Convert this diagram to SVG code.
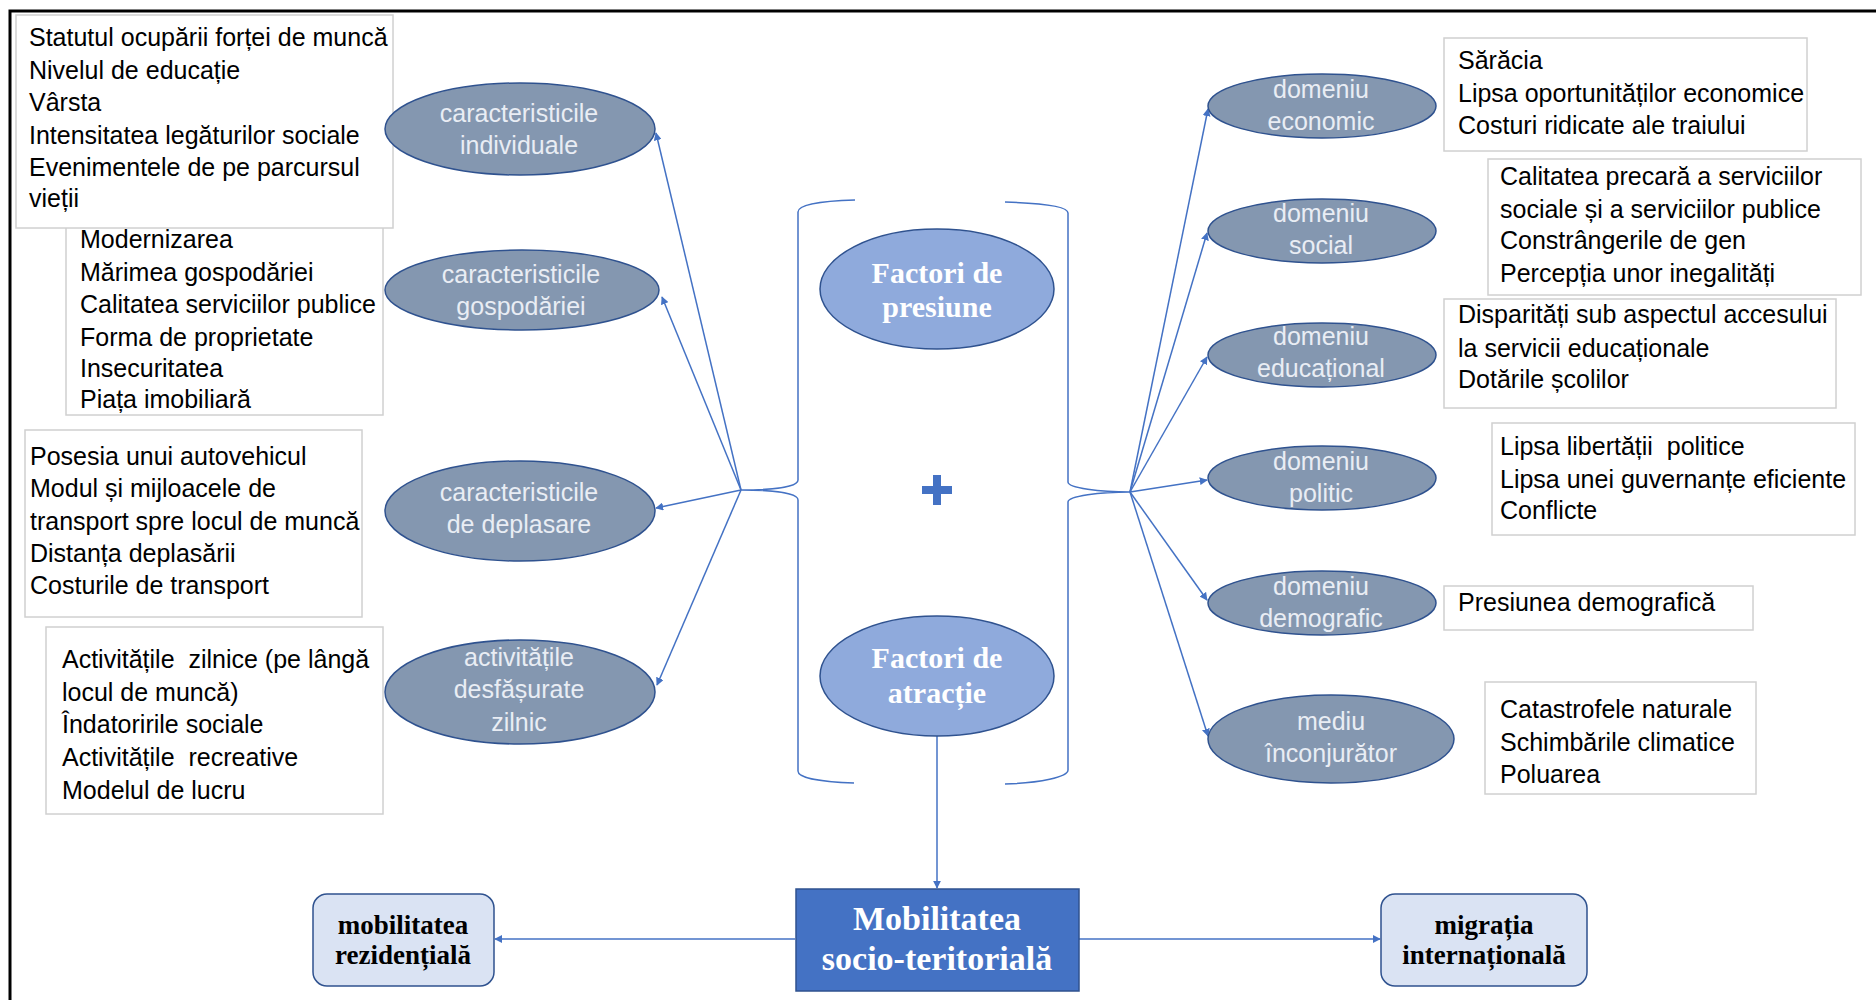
<svg xmlns="http://www.w3.org/2000/svg" width="1876" height="1000" viewBox="0 0 1876 1000">
<defs>
<style>
.box{fill:#fff;stroke:#d0d0d0;stroke-width:1.5}
.lt{font-family:"Liberation Sans",Arial,sans-serif;font-size:25px;fill:#000;white-space:pre}
.el{fill:#8497B0;stroke:#2F528F;stroke-width:1.5}
.et{font-family:"Liberation Sans",Arial,sans-serif;font-size:25px;fill:#E9EDF4;text-anchor:middle}
.fe{fill:#8FAADC;stroke:#2F528F;stroke-width:1.5}
.ft{font-family:"Liberation Serif","Times New Roman",serif;font-weight:bold;font-size:30px;fill:#fff;text-anchor:middle}
.sb{fill:#DAE3F3;stroke:#2F528F;stroke-width:1.5}
.st{font-family:"Liberation Serif","Times New Roman",serif;font-weight:bold;font-size:27px;fill:#000;text-anchor:middle}
.mt{font-family:"Liberation Serif","Times New Roman",serif;font-weight:bold;font-size:34px;fill:#fff;text-anchor:middle}
.ln{fill:none;stroke:#4472C4;stroke-width:1.5}
</style>
<marker id="ah" viewBox="0 0 10 10" refX="9" refY="5" markerWidth="8" markerHeight="8" markerUnits="userSpaceOnUse" orient="auto">
<path d="M0,0 L10,5 L0,10 z" fill="#4472C4"/>
</marker>
</defs>
<rect width="1876" height="1000" fill="#fff"/>
<path d="M10,1000 L10,11 L1876,11" fill="none" stroke="#000" stroke-width="3"/>

<g id="connectors">
<path class="ln" d="M855,200 C822,201 798,204 798,212 L798,480 C798,487 772,490 741,490 C772,490 798,493 798,500 L798,771 C798,778 822,782 854,783"/>
<path class="ln" d="M1005,202 C1040,203 1068,206 1068,213 L1068,482 C1068,488 1100,492 1130,492 C1100,492 1068,496 1068,502 L1068,770 C1068,777 1040,783 1005,784"/>
<line class="ln" x1="741" y1="490" x2="656" y2="133" marker-end="url(#ah)"/>
<line class="ln" x1="741" y1="490" x2="662" y2="297" marker-end="url(#ah)"/>
<line class="ln" x1="741" y1="490" x2="656" y2="508" marker-end="url(#ah)"/>
<line class="ln" x1="741" y1="490" x2="657" y2="685" marker-end="url(#ah)"/>
<line class="ln" x1="1130" y1="492" x2="1208" y2="109" marker-end="url(#ah)"/>
<line class="ln" x1="1130" y1="492" x2="1207" y2="233" marker-end="url(#ah)"/>
<line class="ln" x1="1130" y1="492" x2="1207" y2="357" marker-end="url(#ah)"/>
<line class="ln" x1="1130" y1="492" x2="1207" y2="480" marker-end="url(#ah)"/>
<line class="ln" x1="1130" y1="492" x2="1207" y2="600" marker-end="url(#ah)"/>
<line class="ln" x1="1130" y1="492" x2="1208" y2="736" marker-end="url(#ah)"/>
<line class="ln" x1="937" y1="736" x2="937" y2="888" marker-end="url(#ah)"/>
<line class="ln" x1="795" y1="939" x2="495" y2="939" marker-end="url(#ah)"/>
<line class="ln" x1="1079" y1="939" x2="1380" y2="939" marker-end="url(#ah)"/>
</g>

<g id="box-gospodarie">
<rect class="box" x="66" y="200" width="317" height="215"/>
<text class="lt" x="80" y="248">Modernizarea</text>
<text class="lt" x="80" y="281">Mărimea gospodăriei</text>
<text class="lt" x="80" y="313">Calitatea serviciilor publice</text>
<text class="lt" x="80" y="346">Forma de proprietate</text>
<text class="lt" x="80" y="377">Insecuritatea</text>
<text class="lt" x="80" y="408">Piața imobiliară</text>
</g>
<g id="box-individual">
<rect class="box" x="16" y="15" width="377" height="213"/>
<text class="lt" x="29" y="46">Statutul ocupării forței de muncă</text>
<text class="lt" x="29" y="79">Nivelul de educație</text>
<text class="lt" x="29" y="111">Vârsta</text>
<text class="lt" x="29" y="144">Intensitatea legăturilor sociale</text>
<text class="lt" x="29" y="176">Evenimentele de pe parcursul</text>
<text class="lt" x="29" y="207">vieții</text>
</g>
<g id="box-deplasare">
<rect class="box" x="25" y="430" width="337" height="187"/>
<text class="lt" x="30" y="465">Posesia unui autovehicul</text>
<text class="lt" x="30" y="497">Modul și mijloacele de</text>
<text class="lt" x="30" y="530">transport spre locul de muncă</text>
<text class="lt" x="30" y="562">Distanța deplasării</text>
<text class="lt" x="30" y="594">Costurile de transport</text>
</g>
<g id="box-activitati">
<rect class="box" x="46" y="627" width="337" height="187"/>
<text class="lt" x="62" y="668">Activitățile&#160; zilnice (pe lângă</text>
<text class="lt" x="62" y="701">locul de muncă)</text>
<text class="lt" x="62" y="733">Îndatoririle sociale</text>
<text class="lt" x="62" y="766">Activitățile&#160; recreative</text>
<text class="lt" x="62" y="799">Modelul de lucru</text>
</g>

<g id="ell-individuale">
<ellipse class="el" cx="520" cy="129" rx="135" ry="46"/>
<text class="et" x="519" y="122">caracteristicile</text>
<text class="et" x="519" y="154">individuale</text>
</g>
<g id="ell-gospodariei">
<ellipse class="el" cx="522" cy="290" rx="137" ry="40"/>
<text class="et" x="521" y="283">caracteristicile</text>
<text class="et" x="521" y="315">gospodăriei</text>
</g>
<g id="ell-deplasare">
<ellipse class="el" cx="520" cy="511" rx="135" ry="50"/>
<text class="et" x="519" y="501">caracteristicile</text>
<text class="et" x="519" y="533">de deplasare</text>
</g>
<g id="ell-activitati">
<ellipse class="el" cx="520" cy="692" rx="135" ry="52"/>
<text class="et" x="519" y="666">activitățile</text>
<text class="et" x="519" y="698">desfășurate</text>
<text class="et" x="519" y="731">zilnic</text>
</g>

<g id="factori-presiune">
<ellipse class="fe" cx="937" cy="289" rx="117" ry="60"/>
<text class="ft" x="937" y="283">Factori de</text>
<text class="ft" x="937" y="317">presiune</text>
</g>
<g id="plus">
<path d="M933,475 h8 v11 h11 v8 h-11 v11 h-8 v-11 h-11 v-8 h11 z" fill="#4472C4"/>
</g>
<g id="factori-atractie">
<ellipse class="fe" cx="937" cy="676" rx="117" ry="60"/>
<text class="ft" x="937" y="668">Factori de</text>
<text class="ft" x="937" y="703">atracție</text>
</g>

<g id="ell-economic">
<ellipse class="el" cx="1322" cy="106" rx="114" ry="32"/>
<text class="et" x="1321" y="98">domeniu</text>
<text class="et" x="1321" y="130">economic</text>
</g>
<g id="ell-social">
<ellipse class="el" cx="1322" cy="231" rx="114" ry="32"/>
<text class="et" x="1321" y="222">domeniu</text>
<text class="et" x="1321" y="254">social</text>
</g>
<g id="ell-educational">
<ellipse class="el" cx="1322" cy="355" rx="114" ry="32"/>
<text class="et" x="1321" y="345">domeniu</text>
<text class="et" x="1321" y="377">educațional</text>
</g>
<g id="ell-politic">
<ellipse class="el" cx="1322" cy="478" rx="114" ry="32"/>
<text class="et" x="1321" y="470">domeniu</text>
<text class="et" x="1321" y="502">politic</text>
</g>
<g id="ell-demografic">
<ellipse class="el" cx="1322" cy="603" rx="114" ry="32"/>
<text class="et" x="1321" y="595">domeniu</text>
<text class="et" x="1321" y="627">demografic</text>
</g>
<g id="ell-mediu">
<ellipse class="el" cx="1331" cy="739" rx="123" ry="44"/>
<text class="et" x="1331" y="730">mediu</text>
<text class="et" x="1331" y="762">înconjurător</text>
</g>

<g id="box-economic">
<rect class="box" x="1444" y="38" width="363" height="113"/>
<text class="lt" x="1458" y="69">Sărăcia</text>
<text class="lt" x="1458" y="102">Lipsa oportunităților economice</text>
<text class="lt" x="1458" y="134">Costuri ridicate ale traiului</text>
</g>
<g id="box-social">
<rect class="box" x="1488" y="159" width="373" height="136"/>
<text class="lt" x="1500" y="185">Calitatea precară a serviciilor</text>
<text class="lt" x="1500" y="218">sociale și a serviciilor publice</text>
<text class="lt" x="1500" y="249">Constrângerile de gen</text>
<text class="lt" x="1500" y="282">Percepția unor inegalități</text>
</g>
<g id="box-educational">
<rect class="box" x="1444" y="299" width="392" height="109"/>
<text class="lt" x="1458" y="323">Disparități sub aspectul accesului</text>
<text class="lt" x="1458" y="357">la servicii educaționale</text>
<text class="lt" x="1458" y="388">Dotările școlilor</text>
</g>
<g id="box-politic">
<rect class="box" x="1492" y="423" width="363" height="112"/>
<text class="lt" x="1500" y="455">Lipsa libertății&#160; politice</text>
<text class="lt" x="1500" y="488">Lipsa unei guvernanțe eficiente</text>
<text class="lt" x="1500" y="519">Conflicte</text>
</g>
<g id="box-demografic">
<rect class="box" x="1444" y="586" width="309" height="44"/>
<text class="lt" x="1458" y="611">Presiunea demografică</text>
</g>
<g id="box-mediu">
<rect class="box" x="1485" y="682" width="271" height="112"/>
<text class="lt" x="1500" y="718">Catastrofele naturale</text>
<text class="lt" x="1500" y="751">Schimbările climatice</text>
<text class="lt" x="1500" y="783">Poluarea</text>
</g>

<g id="mobilitatea">
<rect x="796" y="889" width="283" height="102" fill="#4472C4" stroke="#2F528F" stroke-width="1.5"/>
<text class="mt" x="937" y="930">Mobilitatea</text>
<text class="mt" x="937" y="970">socio-teritorială</text>
</g>
<g id="mobilitatea-rezidentiala">
<rect class="sb" x="313" y="894" width="181" height="92" rx="14"/>
<text class="st" x="403" y="934">mobilitatea</text>
<text class="st" x="403" y="964">rezidențială</text>
</g>
<g id="migratia-internationala">
<rect class="sb" x="1381" y="894" width="206" height="92" rx="14"/>
<text class="st" x="1484" y="934">migrația</text>
<text class="st" x="1484" y="964">internațională</text>
</g>
</svg>
